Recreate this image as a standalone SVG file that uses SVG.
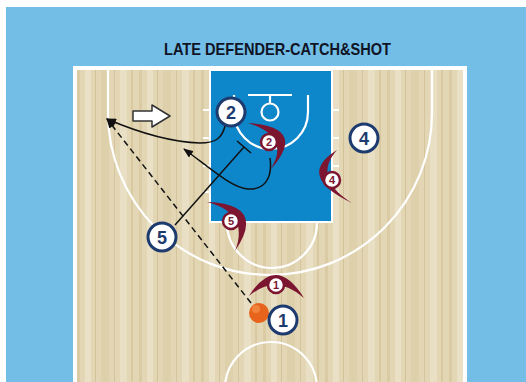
<svg xmlns="http://www.w3.org/2000/svg" width="526" height="382" viewBox="0 0 526 382">
  <defs>
    <pattern id="wood" x="77" y="0" width="62" height="382" patternUnits="userSpaceOnUse">
      <rect width="62" height="382" fill="#e2d6b4"/>
      <rect x="0" width="3" height="382" fill="#dacba4"/>
      <rect x="8" width="6" height="382" fill="#e9e0c6"/>
      <rect x="18" width="1" height="382" fill="#d3c298"/>
      <rect x="24" width="8" height="382" fill="#ddd0ab"/>
      <rect x="37" width="1" height="382" fill="#d5c59c"/>
      <rect x="43" width="7" height="382" fill="#e8dfc4"/>
      <rect x="54" width="2" height="382" fill="#d9c9a1"/>
    </pattern>
    <marker id="arrow" markerWidth="10" markerHeight="8" refX="9" refY="4" orient="auto" markerUnits="userSpaceOnUse">
      <path d="M0,0 L10,4 L0,8 Z" fill="#111"/>
    </marker>
    <style>
      .line { fill: none; stroke: #fff; stroke-width: 2.2; }
      .off circle { fill: #fff; stroke: #1d3b6e; stroke-width: 3; }
      .off text { font-family: "Liberation Sans", Arial, sans-serif; font-weight: bold; font-size: 18px; fill: #1d3b6e; text-anchor: middle; }
      .def circle { fill: #fff; stroke: #7b1530; stroke-width: 2.5; }
      .def path { fill: #7b1530; }
      .def text { font-family: "Liberation Sans", Arial, sans-serif; font-weight: bold; font-size: 11px; fill: #7b1530; text-anchor: middle; }
      .move { fill: none; stroke: #111; stroke-width: 1.5; }
    </style>
  </defs>

  <!-- backdrop -->
  <rect width="526" height="382" fill="#72bee7"/>
  <rect width="526" height="7" fill="#fff"/>
  <rect width="6" height="382" fill="#fff"/>

  <text x="277.5" y="55" text-anchor="middle" font-family="'Liberation Sans', Arial, sans-serif" font-weight="bold" font-size="17" fill="#101424" textLength="227" lengthAdjust="spacingAndGlyphs">LATE DEFENDER-CATCH&amp;SHOT</text>

  <!-- court -->
  <g id="court">
    <rect x="75" y="68" width="390" height="330" fill="url(#wood)" stroke="#fff" stroke-width="4"/>
    <path class="line" d="M108,70 L108,113 A162,162 0 0 0 432,113 L432,70"/>
    <rect x="210" y="70" width="122" height="152" fill="#0d86ca" stroke="#fff" stroke-width="2"/>
    <path class="line" d="M227,223 A45,45 0 0 0 317,223"/>
    <path class="line" d="M203,110 H210 M203,138 H210 M203,166 H210 M203,192 H210 M332,110 H339 M332,138 H339 M332,166 H339 M332,192 H339"/>
    <path class="line" d="M234,95 L234,112 A37,37 0 0 0 308,112 L308,95"/>
    <path class="line" stroke-width="3" d="M248,95 H292"/>
    <path class="line" d="M270,95 V103.5"/>
    <circle class="line" cx="270" cy="112" r="8.5" stroke-width="2.5"/>
    <circle class="line" cx="271" cy="388" r="46" stroke-width="2.5"/>
  </g>

  <!-- movement and pass lines -->
  <g id="connectors">
    <path class="move" stroke-dasharray="6,4" d="M251,303 L107,119" marker-end="url(#arrow)"/>
    <path class="move" d="M225,126 C222,138 216,143 200,143 C170,142 135,131 107,119" marker-end="url(#arrow)"/>
    <path class="move" d="M270,158 C273,180 263,190 248,189 C232,188 210,168 184,149" marker-end="url(#arrow)"/>
    <path class="move" d="M175,225 L244,147 M237,141 L251,153"/>
    <path d="M133,111 H152 V105 L170,116 L152,127 V121 H133 Z" fill="#fff" stroke="#333" stroke-width="1.5" stroke-linejoin="round"/>
  </g>

  <!-- defenders -->
  <g id="d1" class="def">
    <path d="M249,296 Q276,253 304,298 Q276,273 249,296 Z"/>
    <circle cx="276" cy="285" r="8"/>
    <text x="276" y="289">1</text>
  </g>
  <g id="d2" class="def">
    <path d="M248,123 Q309,127 270,170 Q292,137 248,123 Z"/>
    <circle cx="269" cy="142" r="8"/>
    <text x="269" y="146">2</text>
  </g>
  <g id="d4" class="def">
    <path d="M337,150 Q295,176 352,203 Q312,178 337,150 Z"/>
    <circle cx="332" cy="180" r="8"/>
    <text x="332" y="184">4</text>
  </g>
  <g id="d5" class="def">
    <path d="M207,202 Q267,204 235,251 Q250,213 207,202 Z"/>
    <circle cx="231" cy="221" r="8"/>
    <text x="231" y="225">5</text>
  </g>

  <!-- ball -->
  <g id="ball">
    <circle cx="259" cy="313" r="10" fill="#e8641c"/>
    <circle cx="256" cy="309" r="4" fill="#f59a52" opacity="0.6"/>
  </g>

  <!-- offense -->
  <g id="p1" class="off">
    <circle cx="283" cy="320" r="14"/>
    <text x="283" y="326.5">1</text>
  </g>
  <g id="p2" class="off">
    <circle cx="231" cy="112" r="14"/>
    <text x="231" y="118.5">2</text>
  </g>
  <g id="p4" class="off">
    <circle cx="364" cy="138" r="14"/>
    <text x="364" y="144.5">4</text>
  </g>
  <g id="p5" class="off">
    <circle cx="162" cy="237" r="14"/>
    <text x="162" y="243.5">5</text>
  </g>
</svg>
